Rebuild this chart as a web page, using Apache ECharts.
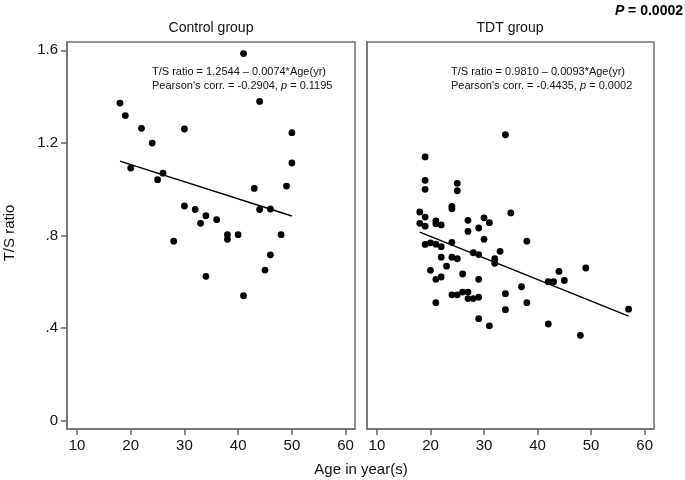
<!DOCTYPE html>
<html>
<head>
<meta charset="utf-8">
<title>T/S ratio by age</title>
<script src="https://cdn.jsdelivr.net/npm/echarts@6/dist/echarts.min.js"></script>
<style>
  html, body { margin: 0; padding: 0; background: #fff; }
  #main { width: 685px; height: 480px; }
</style>
</head>
<body>
<div id="main"></div>
<script>
// values
var controlAge = [18, 19, 22, 24, 20, 26, 25, 30, 41, 44, 50, 50, 49, 43, 44,
                  46, 30, 32, 34, 33, 36, 28, 38, 38, 40, 48, 46, 45, 34, 41];
var controlRatio = [1.372, 1.318, 1.263, 1.199, 1.091, 1.069, 1.041, 1.260, 1.586, 1.379, 1.244, 1.113, 1.013, 1.003, 0.912,
                    0.914, 0.927, 0.912, 0.885, 0.852, 0.868, 0.775, 0.803, 0.783, 0.803, 0.803, 0.716, 0.650, 0.623, 0.539];

var tdtAge = [34, 19, 19, 19, 25, 25, 24, 24, 35, 18, 18, 19, 19, 21, 21, 22,
              27, 27, 30, 31, 29, 30, 19, 20, 21, 22, 24, 38, 28, 29, 33, 32,
              32, 22, 24, 25, 23, 20, 26, 21, 22, 29, 44, 49, 42, 43, 45, 37,
              24, 25, 26, 27, 27, 28, 29, 34, 21, 38, 34, 57, 29, 31, 42, 48];
var tdtRatio = [1.235, 1.139, 1.038, 0.999, 1.025, 0.993, 0.925, 0.915, 0.897, 0.901, 0.852, 0.879, 0.840, 0.863, 0.850, 0.845,
                0.865, 0.817, 0.876, 0.855, 0.832, 0.783, 0.761, 0.768, 0.762, 0.751, 0.770, 0.775, 0.725, 0.717, 0.731, 0.699,
                0.679, 0.706, 0.706, 0.699, 0.667, 0.649, 0.633, 0.610, 0.620, 0.610, 0.644, 0.659, 0.600, 0.600, 0.605, 0.578,
                0.543, 0.543, 0.555, 0.555, 0.527, 0.527, 0.533, 0.548, 0.509, 0.509, 0.479, 0.481, 0.440, 0.409, 0.417, 0.368];

// fitted lines, end points
var controlFit = [[18, 1.121], [50, 0.884]];
var tdtFit = [[18, 0.814], [57, 0.451]];

var xTicks = [10, 20, 30, 40, 50, 60];
var yTicks = [0, 0.4, 0.8, 1.2, 1.6];
var yTickLabels = ['0', '.4', '.8', '1.2', '1.6'];

var font = 'Liberation Sans, Arial, sans-serif';
var boxColor = '#707070';

function zip(xs, ys) {
    return xs.map(function (x, i) { return [x, ys[i]]; });
}

function makeX(idx) {
    return {
        type: 'value',
        gridIndex: idx,
        position: 'bottom',
        min: 8.14,
        max: 61.75,
        axisLine: { show: true, onZero: false, lineStyle: { color: boxColor, width: 1.5 } },
        splitLine: { show: false },
        axisTick: { show: true, inside: false, customValues: xTicks, length: 6, lineStyle: { color: '#666', width: 1.5 } },
        axisLabel: { customValues: xTicks, fontSize: 15, color: '#111', fontFamily: font, margin: 9 }
    };
}

function makeY(idx, withLabels) {
    return {
        type: 'value',
        gridIndex: idx,
        position: 'left',
        min: -0.037,
        max: 1.636,
        axisLine: { show: true, onZero: false, lineStyle: { color: boxColor, width: 1.5 } },
        splitLine: { show: false },
        axisTick: { show: withLabels, inside: false, customValues: yTicks, length: 6, lineStyle: { color: '#666', width: 1.5 } },
        axisLabel: {
            show: withLabels,
            customValues: yTicks,
            fontSize: 15,
            color: '#111',
            fontFamily: font,
            margin: 9,
            formatter: function (v) {
                var i = yTicks.indexOf(Math.round(v * 10) / 10);
                return i >= 0 ? yTickLabels[i] : '';
            }
        }
    };
}

function txt(x, y, text, size, align, extra) {
    var el = {
        type: 'text',
        x: x,
        y: y,
        style: {
            text: text,
            fontSize: size,
            fontFamily: font,
            fill: '#111',
            align: align,
            textAlign: align,
            verticalAlign: 'middle',
            textVerticalAlign: 'middle'
        }
    };
    if (extra) {
        for (var k in extra) el.style[k] = extra[k];
    }
    return el;
}

var italic = { i: { fontStyle: 'italic', fontSize: 11, fontFamily: font, fill: '#111' } };

var chart = echarts.init(document.getElementById('main'));

var option = {
    backgroundColor: '#fff',
    animation: false,
    grid: [
        { left: 67, top: 42, width: 288, height: 387, show: true, borderColor: boxColor, borderWidth: 1.5 },
        { left: 367, top: 42, width: 287, height: 387, show: true, borderColor: boxColor, borderWidth: 1.5 }
    ],
    xAxis: [makeX(0), makeX(1)],
    yAxis: [makeY(0, true), makeY(1, false)],
    series: [
        {
            type: 'scatter', xAxisIndex: 0, yAxisIndex: 0,
            data: zip(controlAge, controlRatio),
            symbolSize: 6.8, itemStyle: { color: '#000', opacity: 1 }
        },
        {
            type: 'line', xAxisIndex: 0, yAxisIndex: 0,
            data: controlFit, showSymbol: false, silent: true,
            lineStyle: { color: '#000', width: 1.5 }
        },
        {
            type: 'scatter', xAxisIndex: 1, yAxisIndex: 1,
            data: zip(tdtAge, tdtRatio),
            symbolSize: 6.8, itemStyle: { color: '#000', opacity: 1 }
        },
        {
            type: 'line', xAxisIndex: 1, yAxisIndex: 1,
            data: tdtFit, showSymbol: false, silent: true,
            lineStyle: { color: '#000', width: 1.5 }
        }
    ],
    graphic: [
        txt(683, 11, '{i|P} = 0.0002', 14, 'right', {
            fontWeight: 'bold', fill: '#000',
            rich: { i: { fontStyle: 'italic', fontWeight: 'bold', fontSize: 14, fontFamily: font, fill: '#000' } }
        }),
        txt(211, 28, 'Control group', 14, 'center'),
        txt(510, 28, 'TDT group', 14, 'center'),
        txt(152, 72, 'T/S ratio = 1.2544 \u2013 0.0074*Age(yr)', 11, 'left'),
        txt(152, 85.5, 'Pearson\'s corr. = -0.2904, {i|p} = 0.1195', 11, 'left', { rich: italic }),
        txt(451, 72, 'T/S ratio = 0.9810 \u2013 0.0093*Age(yr)', 11, 'left'),
        txt(451, 85.5, 'Pearson\'s corr. = -0.4435, {i|p} = 0.0002', 11, 'left', { rich: italic }),
        txt(361, 470, 'Age in year(s)', 15, 'center'),
        {
            type: 'text',
            x: 10,
            y: 233,
            rotation: Math.PI / 2,
            style: {
                text: 'T/S ratio',
                fontSize: 15,
                fontFamily: font,
                fill: '#111',
                align: 'center',
                textAlign: 'center',
                verticalAlign: 'middle',
                textVerticalAlign: 'middle'
            }
        }
    ]
};

chart.setOption(option);
</script>
</body>
</html>
